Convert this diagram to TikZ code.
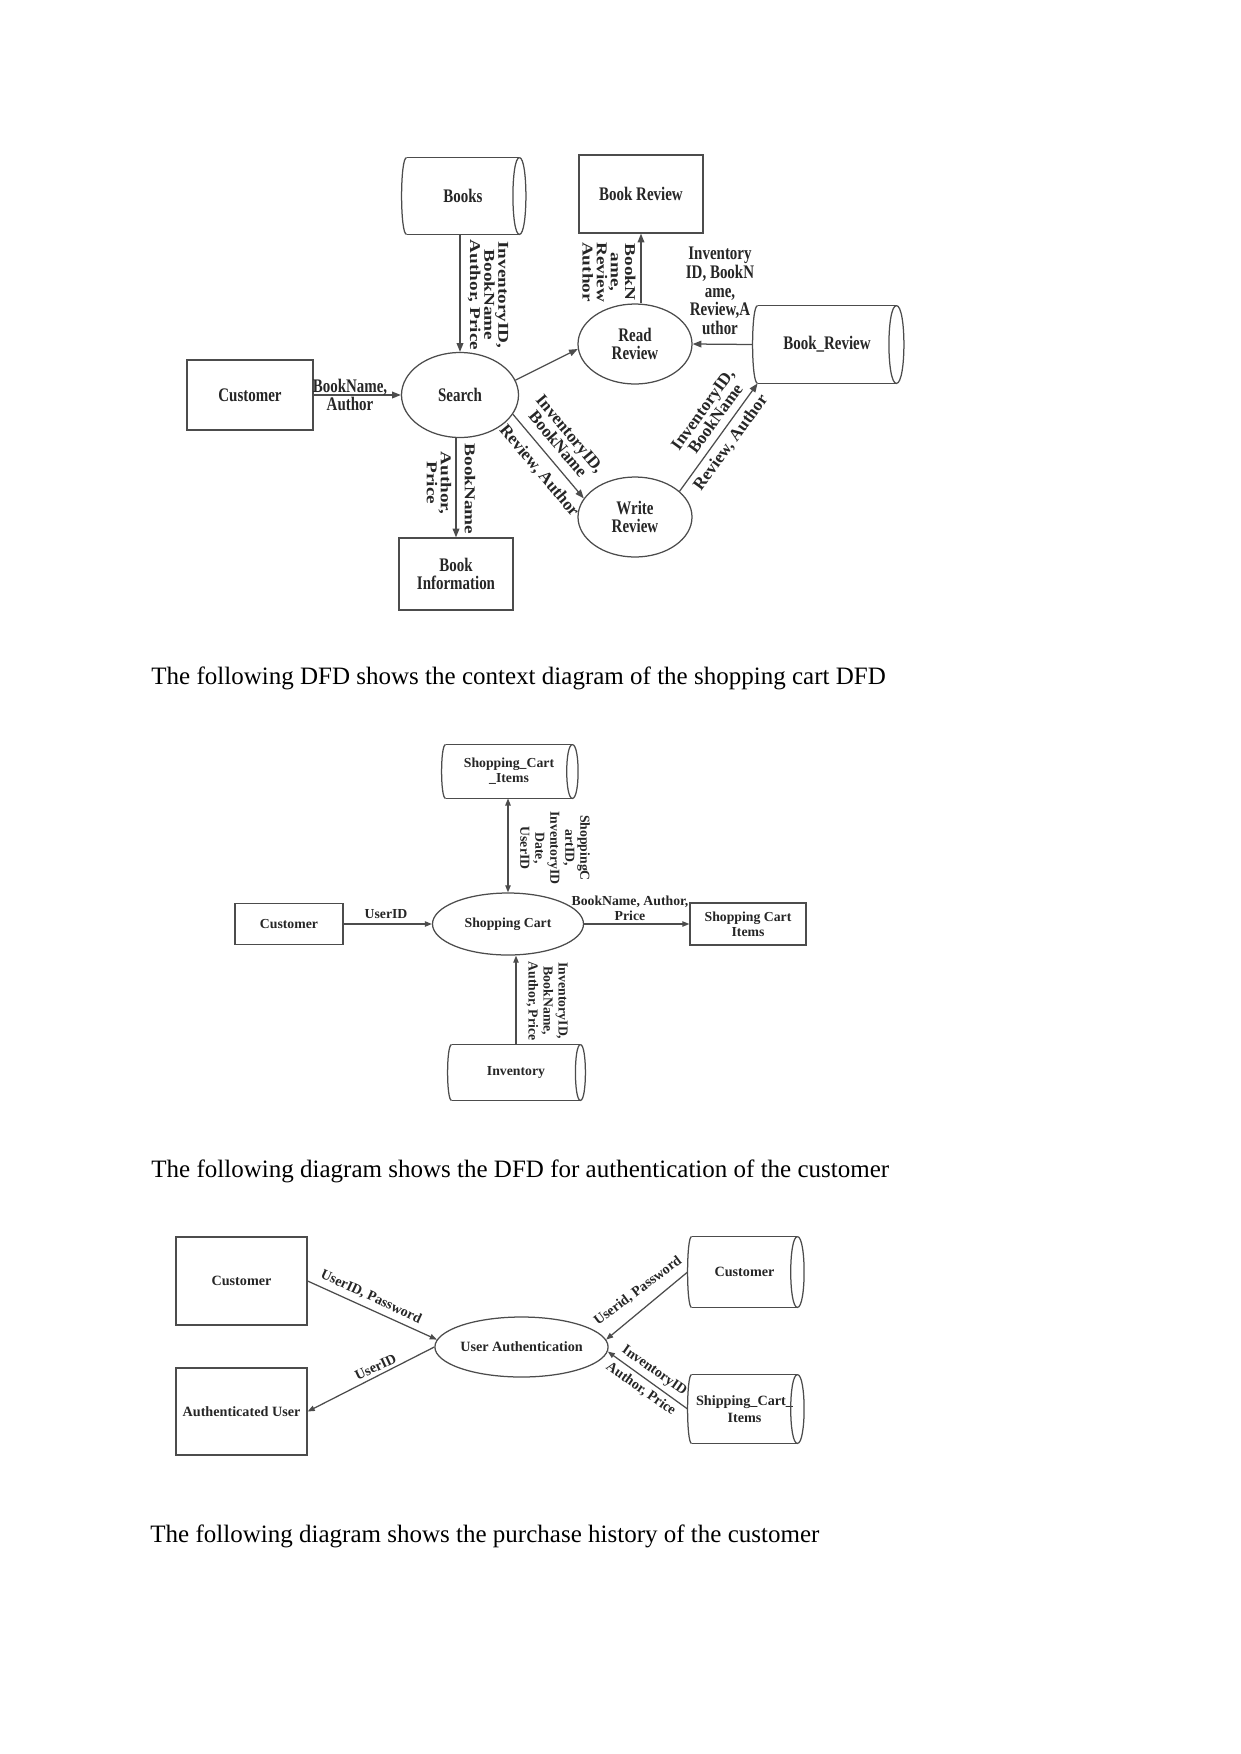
\documentclass[tikz,border=0pt]{standalone}
\usepackage{fontspec}
\setmainfont{Liberation Serif}
\newfontfamily\dfh[FakeStretch=0.78]{Liberation Serif}
\newfontfamily\dfv[FakeStretch=1.28]{Liberation Serif}
\usetikzlibrary{shapes.geometric,arrows.meta,calc}
\def\pxu{0.47967pt}
\newcommand{\cylo}[3]{%
  \draw[ln] (#1.north west) -- (#1.north east) (#1.south west) -- (#1.south east);
  \draw[ln] (#1.north east) .. controls +({#2*1.333},0) and +({#2*1.333},0) .. (#1.south east)
            .. controls +({-#2*1.333},0) and +({-#2*1.333},0) .. (#1.north east);
  \draw[ln] (#1.north west) .. controls +({-#3*1.333},0) and +({-#3*1.333},0) .. (#1.south west);
}
\tikzset{
  x=\pxu, y=-\pxu,
  ln/.style={draw=black!70, line width=0.6pt},
  arr/.style={ln, -{Triangle[length=4.2pt,width=3.2pt]}},
  arrs/.style={ln, -{Triangle[length=3.4pt,width=2.6pt]}},
  arrd/.style={ln, {Triangle[length=3.4pt,width=2.6pt]}-{Triangle[length=3.4pt,width=2.6pt]}},
  wh/.style 2 args={minimum width=#1*\pxu, minimum height=#2*\pxu},
  box/.style={rectangle, ln, inner sep=0pt, align=center},
  proc/.style={ellipse, ln, inner sep=0pt, align=center},
  store/.style={rectangle, inner sep=0pt, align=center},
  fA/.style={font=\dfh\bfseries\fontsize{9.2pt}{9pt}\selectfont, text=black!85},
  fAv/.style={font=\dfv\bfseries\fontsize{7.2pt}{6.8pt}\selectfont, text=black!85, align=center, inner sep=0pt, rotate=-90},
  fAs/.style={font=\bfseries\fontsize{8.2pt}{7.6pt}\selectfont, text=black!85, align=center, inner sep=0pt},
  fB/.style={font=\bfseries\fontsize{6.6pt}{7.2pt}\selectfont, text=black!85},
  fC/.style={font=\bfseries\fontsize{6.8pt}{8pt}\selectfont, text=black!85},
  lab/.style={align=center, inner sep=0pt},
  body/.style={font=\fontsize{12pt}{14pt}\selectfont, anchor=base west, inner sep=0pt},
}
\begin{document}
\begin{tikzpicture}
\useasboundingbox (0,0) rectangle (1241,1754);

% ---------- Diagram 1 ----------
\node[store, fA, wh={112}{76}] (books) at (463,196) {Books};
\cylo{books}{6.5}{5}
\node[proc, fA, wh={117}{85}] (search) at (460,395) {Search};
\node[box, fA, wh={126}{70}] (cust1) at (250,395) {Customer};
\node[box, fA, wh={114}{72}] (binfo) at (456,574) {Book\\Information};
\node[box, fA, wh={124}{78}] (brev) at (641,194) {Book Review};
\node[proc, fA, wh={114}{80}] (rread) at (635,344) {Read\\Review};
\node[store, fA, wh={138}{77}] (bkrv) at (827,344.5) {Book\_Review};
\cylo{bkrv}{7.5}{5}
\node[proc, fA, wh={114}{80}] (wrev) at (635,517) {Write\\Review};

\draw[arr] (books.south -| search.north) -- (search.north);
\draw[arr] (cust1.east) -- (search.west);
\draw[arr] (search.south -| binfo.north) -- (binfo.north);
\draw[arr] (rread.north -| brev.south) -- (brev.south);
\draw[arr] ($(bkrv.west)+(-5,0)$) -- (rread.east);
\draw[arr] (search.15) -- (rread.185);
\draw[arr] (search.-20) -- (wrev.160);
\draw[arr] (wrev.30) -- (bkrv.south west);

\node[lab, fA] (l1) at (350,395) {BookName,\\Author};
\node[fAv] (l2) at (488,295) {InventoryID,\\BookName\\Author, Price};
\node[fAv] (l3) at (470,489) {BookName};
\node[fAv] (l4) at (439,483) {Author,\\Price};
\node[fAv] (l5) at (609,272) {BookN\\ame,\\Review\\Author};
\node[lab, fA] (l6) at (720,291) {Inventory\\ID, BookN\\ame,\\Review,A\\uthor};
\node[fAs, rotate=-50] (l7) at (564,439) {InventoryID,\\BookName};
\node[fAs, rotate=-50] (l8) at (539,471) {Review, Author};
\node[fAs, rotate=54] (l9) at (709,414) {InventoryID,\\BookName};
\node[fAs, rotate=54] (l10) at (731,443) {Review, Author};

\node[body] (t1) at (151,684) {The following DFD shows the context diagram of the shopping cart DFD};

% ---------- Diagram 2 ----------
\node[store, fB, wh={126}{53}] (scis) at (509,771.5) {Shopping\_Cart\\\_Items};
\cylo{scis}{5.7}{4}
\node[proc, fB, wh={151}{62}] (scart) at (508,924) {Shopping Cart};
\node[box, fB, wh={108}{41}] (cust2) at (289,924) {Customer};
\node[box, fB, wh={116}{42}] (scib) at (748,924) {Shopping Cart\\Items};
\node[store, fB, wh={128}{55}] (inv) at (516,1072.5) {Inventory};
\cylo{inv}{5}{4}

\draw[arrd] (scart.north) -- (scart.north |- scis.south);
\draw[arrs] (cust2.east) -- (scart.west);
\draw[arrs] (scart.east) -- (scib.west);
\draw[arrs] (inv.north) -- (inv.north |- scart.south);

\node[lab, fB] (m1) at (386,914) {UserID};
\node[lab, fB] (m2) at (630,908) {BookName, Author,\\Price};
\node[lab, fB, rotate=-90] (m3) at (555,848) {ShoppingC\\artID,\\InventoryID\\Date,\\UserID};
\node[lab, fB, rotate=-90] (m4) at (547,1001) {InventoryID,\\BookName,\\Author, Price};

\node[body] (t2) at (151,1177) {The following diagram shows the DFD for authentication of the customer};

% ---------- Diagram 3 ----------
\node[box, fC, wh={131}{88}] (cust3) at (241.5,1281) {Customer};
\node[box, fC, wh={131}{87}] (auser) at (241.5,1411.5) {Authenticated User};
\node[proc, fC, wh={151}{60}] (uauth) at (521.5,1347) {User Authentication};
\node[store, fC, wh={105}{70}] (custc) at (744.5,1272) {Customer};
\cylo{custc}{6.7}{4}
\node[store, fC, wh={105}{68}] (shipc) at (744.5,1409) {Shipping\_Cart\_\\Items};
\cylo{shipc}{6.7}{4}

\draw[arrs] (cust3.east) -- (uauth.175);
\draw[arrs] (uauth.west) -- (auser.east);
\draw[arrs] ($(custc.west)+(-4,0)$) -- (uauth.5);
\draw[arrs] ($(shipc.west)+(-4,0)$) -- (uauth.-3);

\node[lab, fC, rotate=-25] (n1) at (371,1297) {UserID, Password};
\node[lab, fC, rotate=25] (n2) at (375.6,1367) {UserID};
\node[lab, fC, rotate=37] (n3) at (638,1291) {Userid, Password};
\node[lab, fC, rotate=-35] (n4) at (654,1371) {InventoryID};
\node[lab, fC, rotate=-35] (n5) at (641,1389) {Author, Price};

\node[body] (t3) at (150,1542) {The following diagram shows the purchase history of the customer};
\end{tikzpicture}
\end{document}
